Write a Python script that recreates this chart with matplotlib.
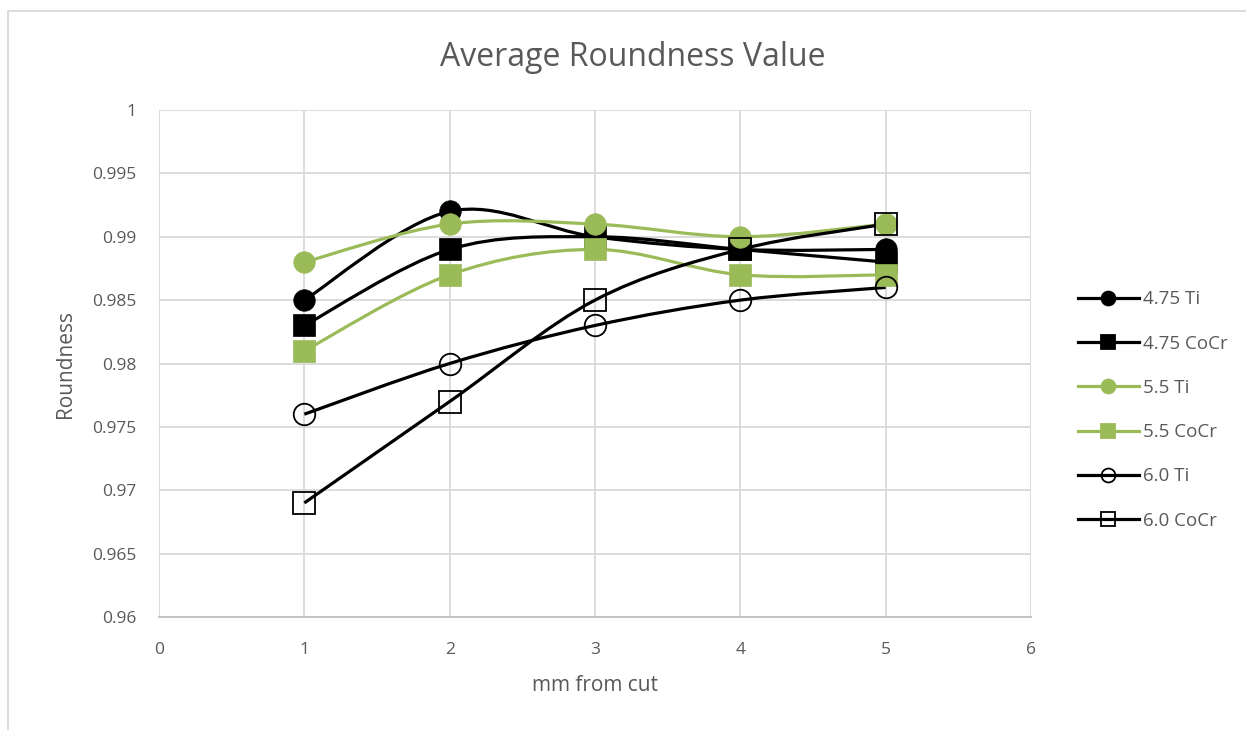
import numpy as np
import matplotlib.pyplot as plt
from matplotlib.lines import Line2D
from matplotlib.path import Path
from matplotlib.patches import PathPatch, Rectangle

plt.rcParams['font.family'] = ['Open Sans', 'DejaVu Sans']

mm_from_cut = [1, 2, 3, 4, 5]

ti_475 = [0.985, 0.992, 0.990, 0.989, 0.989]
cocr_475 = [0.983, 0.989, 0.990, 0.989, 0.988]
ti_55 = [0.988, 0.991, 0.991, 0.990, 0.991]
cocr_55 = [0.981, 0.987, 0.989, 0.987, 0.987]
ti_60 = [0.976, 0.980, 0.983, 0.985, 0.986]
cocr_60 = [0.969, 0.977, 0.985, 0.989, 0.991]

series_names = ["4.75 Ti", "4.75 CoCr", "5.5 Ti", "5.5 CoCr", "6.0 Ti", "6.0 CoCr"]
series_values = [ti_475, cocr_475, ti_55, cocr_55, ti_60, cocr_60]

green = '#9BBB59'
text_col = '#595959'
grid_col = '#D9D9D9'

# (colour, marker, filled)
styles = [('black', 'o', True), ('black', 's', True),
          (green, 'o', True), (green, 's', True),
          ('black', 'o', False), ('black', 's', False)]


def smooth_path(x, y):
    # cubic bezier through the points, spreadsheet style smoothing
    pts = np.column_stack([x, y]).astype(float)
    n = len(pts)
    verts = [pts[0]]
    codes = [Path.MOVETO]
    for i in range(n - 1):
        p0 = pts[i - 1] if i > 0 else pts[i]
        p1 = pts[i]
        p2 = pts[i + 1]
        p3 = pts[i + 2] if i + 2 < n else pts[i + 1]
        c1 = p1 + (p2 - p0) / 6
        c2 = p2 - (p3 - p1) / 6
        verts += [c1, c2, p2]
        codes += [Path.CURVE4] * 3
    return Path(verts, codes)


fig = plt.figure(figsize=(12.46, 7.30), dpi=100)
W, H = 1246, 730
ax = fig.add_axes([159 / W, 1 - 617 / H, (1031 - 159) / W, (617 - 110) / H])

fig.patches.append(Rectangle((8 / W, -0.1), 1.2, 1 - 11 / H + 0.1,
                             transform=fig.transFigure, facecolor='none',
                             edgecolor=grid_col, linewidth=1.3))

for vals, (col, mk, filled) in zip(series_values, styles):
    ax.add_patch(PathPatch(smooth_path(mm_from_cut, vals), facecolor='none',
                           edgecolor=col, linewidth=2.3, zorder=3))
    ax.plot(mm_from_cut, vals, linestyle='None', marker=mk,
            markersize=15.5 if mk == 'o' else 15.5,
            markerfacecolor=col if filled else 'none',
            markeredgecolor=col, markeredgewidth=1.3 if not filled else 0.5,
            zorder=4)

ax.set_xlim(0, 6)
ax.set_ylim(0.96, 1.0)
ax.set_xticks(range(0, 7))
ax.set_yticks(np.arange(0.96, 1.0001, 0.005))
ax.set_yticklabels(['0.96', '0.965', '0.97', '0.975', '0.98', '0.985', '0.99', '0.995', '1'])
ax.grid(True, color=grid_col, linewidth=1.3, zorder=0)
ax.set_axisbelow(True)
for side in ['top', 'right', 'left']:
    ax.spines[side].set_visible(False)
ax.spines['bottom'].set_color('#BFBFBF')
ax.spines['bottom'].set_linewidth(1.3)
ax.tick_params(length=0, labelsize=12.5, labelcolor=text_col)
ax.tick_params(axis='x', pad=18)
ax.tick_params(axis='y', pad=16)

ax.set_xlabel("mm from cut", fontsize=15, color=text_col, labelpad=12)
ax.set_ylabel("Roundness", fontsize=15, color=text_col, labelpad=12)
fig.text(633 / W, 1 - 57 / H, "Average Roundness Value", fontsize=23,
         color=text_col, ha='center', va='center')

handles = []
for name, (col, mk, filled) in zip(series_names, styles):
    handles.append(Line2D([0], [0], color=col, linewidth=2.3, marker=mk,
                          markersize=10,
                          markerfacecolor=col if filled else 'none',
                          markeredgecolor=col, markeredgewidth=1.3,
                          label=name))
fig.legend(handles=handles, loc='center left', bbox_to_anchor=(1070 / W, 1 - 410 / H),
           frameon=False, fontsize=13.5, labelcolor=text_col, handlelength=3.3,
           handletextpad=0.2, labelspacing=1.4, borderaxespad=0)

fig.savefig("out.png", dpi=100)
